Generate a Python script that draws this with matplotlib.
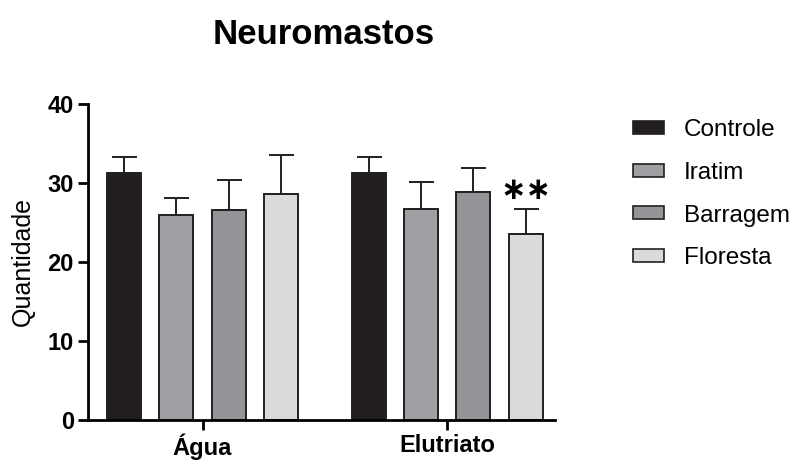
import numpy as np
import matplotlib.pyplot as plt
from matplotlib.patches import Patch

plt.rcParams['font.family'] = ['Liberation Sans', 'DejaVu Sans']

groups = ["Água", "Elutriato"]
series = ["Controle", "Iratim", "Barragem", "Floresta"]
means = {
    "Controle": [31.2, 31.2],
    "Iratim":   [25.9, 26.7],
    "Barragem": [26.6, 28.8],
    "Floresta": [28.6, 23.6],
}
errs = {
    "Controle": [2.1, 2.1],
    "Iratim":   [2.2, 3.4],
    "Barragem": [3.8, 3.1],
    "Floresta": [5.0, 3.1],
}
colors = ["#231f20", "#a0a0a4", "#939598", "#d9dadc"]

fig = plt.figure(figsize=(7.98, 4.62), dpi=100)
ax = fig.add_axes([0.110, 0.091, 0.585, 0.684])

centers = np.array([0, 4.67])
offsets = [-1.5, -0.5, 0.5, 1.5]
width = 0.65

for i, name in enumerate(series):
    x = centers + offsets[i]
    ax.bar(x, means[name], width, color=colors[i], edgecolor="#231f20",
           linewidth=1.4, zorder=2)
    ax.errorbar(x, means[name], yerr=[np.zeros(2), errs[name]], fmt="none",
                ecolor="#231f20", elinewidth=1.4, capsize=9, capthick=1.4, zorder=1)

# significance mark over Floresta / Elutriato
ax.text(centers[1] + offsets[3], means["Floresta"][1] + errs["Floresta"][1] + 0.5,
        "∗∗", ha="center", va="bottom", fontsize=22, fontweight="bold",
        family=["DejaVu Sans"])

ax.set_xlim(-2.19, 6.72)
ax.set_ylim(0, 40)
ax.set_yticks([0, 10, 20, 30, 40])
ax.set_xticks(centers)
ax.set_xticklabels(groups, fontsize=17, fontweight="bold")
for lab in ax.get_yticklabels():
    lab.set_fontsize(17)
    lab.set_fontweight("bold")
ax.set_ylabel("Quantidade", fontsize=18, labelpad=9)
ax.spines["top"].set_visible(False)
ax.spines["right"].set_visible(False)
ax.spines["left"].set_linewidth(2)
ax.spines["bottom"].set_linewidth(2)
ax.tick_params(width=2, length=7, pad=3)

fig.suptitle("Neuromastos", x=0.405, y=0.96, fontsize=25, fontweight="bold")

handles = [Patch(facecolor=colors[i], edgecolor="#231f20", linewidth=1.2, label=s)
           for i, s in enumerate(series)]
fig.legend(handles=handles, loc="upper left", bbox_to_anchor=(0.793, 0.742),
           frameon=False, fontsize=17.5, handlelength=1.3, handleheight=0.45,
           labelspacing=0.85, handletextpad=0.8, borderaxespad=0, borderpad=0)

plt.savefig("out.png", dpi=100)
